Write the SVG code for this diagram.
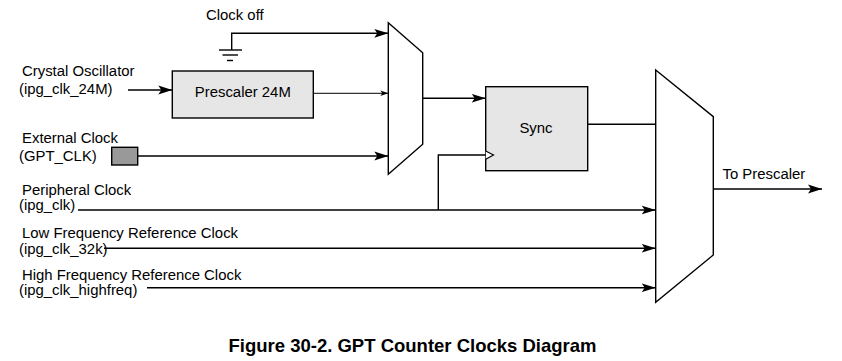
<svg xmlns="http://www.w3.org/2000/svg" width="842" height="361" viewBox="0 0 842 361">
  <defs>
    <marker id="arrow" markerUnits="userSpaceOnUse" markerWidth="15" markerHeight="10" refX="14" refY="5" orient="auto">
      <path d="M0,0.6 L14,5 L0,9.4 L3,5 Z" fill="#000"/>
    </marker>
    <marker id="arrow-sm" markerUnits="userSpaceOnUse" markerWidth="9" markerHeight="7" refX="8" refY="3.5" orient="auto">
      <path d="M0,0.8 L8,3.5 L0,6.2 L2,3.5 Z" fill="#000"/>
    </marker>
    <style>
      .lbl { font-family: "Liberation Sans", Arial, sans-serif; font-size: 14.9px; fill: #000; }
      .title { font-family: "Liberation Sans", Arial, sans-serif; font-size: 18.5px; font-weight: bold; fill: #000; }
      .wire { fill: none; stroke: #000; stroke-width: 1.4; }
      .thin { fill: none; stroke: #000; stroke-width: 1; }
      .mux { fill: #fff; stroke: #000; stroke-width: 1.4; }
      .block { fill: #e6e6e6; stroke: #000; stroke-width: 1.4; }
    </style>
  </defs>

  <!-- clock source labels -->
  <g id="clock-off-label"><text class="lbl" x="206" y="20">Clock off</text></g>
  <g id="crystal-label">
    <text class="lbl" x="22" y="76">Crystal Oscillator</text>
    <text class="lbl" x="19" y="94">(ipg_clk_24M)</text>
  </g>
  <g id="external-label">
    <text class="lbl" x="22" y="143">External Clock</text>
    <text class="lbl" x="19" y="161">(GPT_CLK)</text>
  </g>
  <g id="peripheral-label">
    <text class="lbl" x="22" y="195">Peripheral Clock</text>
    <text class="lbl" x="19" y="210">(ipg_clk)</text>
  </g>
  <g id="lowfreq-label">
    <text class="lbl" x="22" y="238">Low Frequency Reference Clock</text>
    <text class="lbl" x="19" y="253.5">(ipg_clk_32k)</text>
  </g>
  <g id="highfreq-label">
    <text class="lbl" x="22" y="280">High Frequency Reference Clock</text>
    <text class="lbl" x="19" y="294.5">(ipg_clk_highfreq)</text>
  </g>

  <!-- ground symbol -->
  <g id="ground">
    <line class="wire" x1="219" y1="50" x2="242" y2="50"/>
    <line class="wire" x1="222.5" y1="55" x2="238" y2="55"/>
    <line class="wire" x1="227" y1="60.5" x2="233" y2="60.5"/>
  </g>

  <!-- external clock pad -->
  <g id="gpt-clk-pad">
    <rect x="111.7" y="147.3" width="26" height="17.7" fill="#999" stroke="#000" stroke-width="1.4"/>
  </g>

  <!-- 24M prescaler -->
  <g id="prescaler-24m">
    <rect class="block" x="172.3" y="71" width="141" height="47"/>
    <text class="lbl" x="242.8" y="97" text-anchor="middle">Prescaler 24M</text>
  </g>

  <!-- first clock multiplexer -->
  <g id="mux-1">
    <path class="mux" d="M388.3,22.7 L422.7,52.7 L422.7,144.3 L388.3,174.3 Z"/>
  </g>

  <!-- synchroniser -->
  <g id="sync">
    <rect class="block" x="485.7" y="86.7" width="102" height="84"/>
    <text class="lbl" x="536" y="132.5" text-anchor="middle">Sync</text>
    <path d="M485.7,151 L493.5,155 L485.7,159.3" fill="#fff" stroke="#000" stroke-width="1.2"/>
  </g>

  <!-- output multiplexer -->
  <g id="mux-2">
    <path class="mux" d="M655.7,70 L713.3,116.7 L713.3,255 L655.7,302.3 Z"/>
  </g>

  <g id="to-prescaler-label"><text class="lbl" x="722.5" y="179">To Prescaler</text></g>

  <!-- connectors -->
  <g id="connectors">
    <path class="wire" d="M231.7,50 L231.7,33.3 L388.3,33.3" marker-end="url(#arrow)"/>
    <path class="wire" d="M128,90 L172.3,90" marker-end="url(#arrow)"/>
    <path class="thin" d="M313.3,93.3 L388.3,93.3" marker-end="url(#arrow-sm)"/>
    <path class="wire" d="M137.7,156 L388.3,156" marker-end="url(#arrow)"/>
    <path class="wire" d="M422.7,98.3 L485.7,98.3" marker-end="url(#arrow)"/>
    <path class="wire" d="M438.3,210 L438.3,155 L485.7,155"/>
    <path class="wire" d="M587.7,124.3 L655.7,124.3"/>
    <path class="wire" d="M78,210 L655.7,210" marker-end="url(#arrow)"/>
    <path class="wire" d="M104,248.3 L655.7,248.3" marker-end="url(#arrow)"/>
    <path class="wire" d="M147,287.7 L655.7,287.7" marker-end="url(#arrow)"/>
    <path class="wire" d="M713.3,189 L822,189" marker-end="url(#arrow)"/>
  </g>

  <g id="caption"><text class="title" x="412.5" y="352" text-anchor="middle">Figure 30-2. GPT Counter Clocks Diagram</text></g>
</svg>
